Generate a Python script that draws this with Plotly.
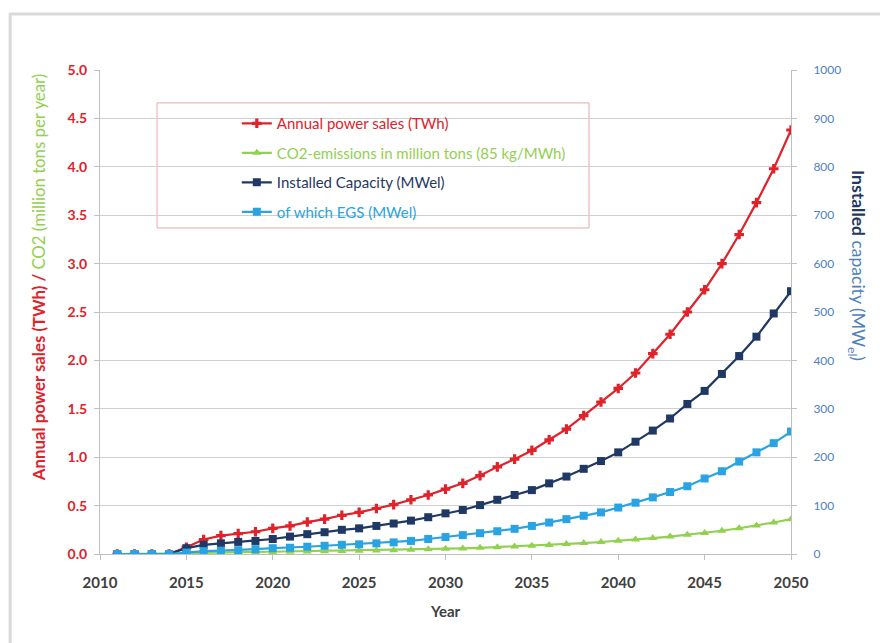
import plotly.graph_objects as go

years = list(range(2011, 2051))

power_sales_twh = [0, 0, 0, 0, 0.07, 0.15, 0.19, 0.21, 0.23, 0.265,
                   0.29, 0.33, 0.36, 0.40, 0.43, 0.47, 0.51, 0.56, 0.61, 0.67,
                   0.73, 0.81, 0.90, 0.98, 1.07, 1.18, 1.29, 1.43, 1.57, 1.71,
                   1.87, 2.07, 2.27, 2.50, 2.73, 3.00, 3.30, 3.63, 3.98, 4.38]

co2_mt = [0, 0, 0, 0, 0.006, 0.012, 0.015, 0.017, 0.019, 0.021,
          0.023, 0.026, 0.028, 0.031, 0.034, 0.037, 0.040, 0.044, 0.048, 0.053,
          0.058, 0.064, 0.071, 0.078, 0.086, 0.094, 0.103, 0.113, 0.124, 0.136,
          0.149, 0.164, 0.180, 0.198, 0.218, 0.240, 0.266, 0.294, 0.325, 0.36]

installed_mw = [0, 0, 0, 0, 12, 19, 22, 25, 27, 31,
                36, 41, 45, 50, 53, 58, 63, 69, 76, 84,
                91, 101, 112, 122, 132, 146, 160, 176, 192, 210,
                232, 255, 280, 310, 337, 372, 409, 449, 497, 543]

egs_mw = [0, 0, 0, 0, 3, 6, 7, 8, 10, 12,
          13, 15, 17, 19, 20, 22, 24, 27, 31, 35,
          39, 43, 47, 52, 58, 65, 72, 79, 86, 96,
          106, 117, 128, 140, 156, 171, 191, 210, 229, 253]

RED = "#e0222a"
GREEN = "#92d050"
NAVY = "#1f3864"
LBLUE = "#2aa3e2"
AXBLUE = "#4f81bd"
FONT = "Lato"

fig = go.Figure()
fig.add_trace(go.Scatter(
    x=years, y=power_sales_twh, mode="lines+markers", legendgroup="a",
    name=f'<span style="color:{RED}">Annual power sales (TWh)</span>',
    line=dict(color=RED, width=2.2), marker=dict(symbol="cross", size=8, color=RED)))
fig.add_trace(go.Scatter(
    x=years, y=co2_mt, mode="lines+markers", legendgroup="b",
    name=f'<span style="color:{GREEN}">CO2-emissions in million tons (85 kg/MWh)</span>',
    line=dict(color=GREEN, width=2.2), marker=dict(symbol="triangle-up", size=8, color=GREEN)))
fig.add_trace(go.Scatter(
    x=years, y=installed_mw, mode="lines+markers", yaxis="y2", legendgroup="c",
    name=f'<span style="color:{NAVY}">Installed Capacity (MWel)</span>',
    line=dict(color=NAVY, width=2.2), marker=dict(symbol="square", size=8, color=NAVY)))
fig.add_trace(go.Scatter(
    x=years, y=egs_mw, mode="lines+markers", yaxis="y2", legendgroup="d",
    name=f'<span style="color:{LBLUE}">of which EGS (MWel)</span>',
    line=dict(color=LBLUE, width=2.2), marker=dict(symbol="square", size=8, color=LBLUE)))

fig.update_layout(
    width=880, height=635,
    margin=dict(l=92, r=97, t=62, b=89),
    paper_bgcolor="white", plot_bgcolor="white",
    font=dict(family=FONT, size=12, color="#404040"),
    showlegend=True,
    legend=dict(x=0.198, y=0.9235, xanchor="left", yanchor="top",
                bgcolor="rgba(0,0,0,0)", borderwidth=0,
                font=dict(family=FONT, size=15), tracegroupgap=7,
                itemwidth=30),
    xaxis=dict(range=[2010, 2050], dtick=5, tick0=2010, showgrid=False,
               showline=True, linecolor="#bfbfbf", linewidth=1,
               ticks="outside", ticklen=5, tickcolor="#bfbfbf",
               ticklabelstandoff=10,
               tickfont=dict(family=FONT, size=15, color="#404040", weight="bold"),
               title=dict(text="<b>Year</b>", font=dict(family=FONT, size=15, color="#404040"), standoff=16),
               zeroline=False),
    yaxis=dict(range=[0, 5], dtick=0.5, tickformat=".1f", showgrid=True,
               gridcolor="#cfcfcf", gridwidth=1,
               showline=True, linecolor="#bfbfbf", linewidth=1,
               ticks="outside", ticklen=5, tickcolor="#bfbfbf",
               ticklabelstandoff=4,
               tickfont=dict(family=FONT, size=14, color=RED, weight="bold"),
               zeroline=False),
    yaxis2=dict(range=[0, 1000], dtick=100, overlaying="y", side="right",
                showgrid=False, showline=True, linecolor="#bfbfbf", linewidth=1,
                ticks="outside", ticklen=5, tickcolor="#bfbfbf",
                ticklabelstandoff=14,
                tickfont=dict(family=FONT, size=12, color=AXBLUE),
                zeroline=False),
)

# outer frame (top and left edges visible)
fig.add_shape(type="rect", xref="paper", yref="paper",
              x0=-0.130, x1=1.20, y0=-0.25, y1=1.1157,
              line=dict(color="#d9d9d9", width=3), fillcolor="rgba(0,0,0,0)", layer="below")
# legend box
fig.add_shape(type="rect", xref="paper", yref="paper",
              x0=0.0825, x1=0.7077, y0=0.6736, y1=0.932,
              line=dict(color="#e8a8a8", width=1), fillcolor="white", layer="below")

fig.add_annotation(
    xref="paper", yref="paper", x=-0.0897, y=0.57, xanchor="center", yanchor="middle",
    textangle=-90, showarrow=False,
    text=f'<span style="color:{RED}"><b>Annual power sales (TWh) / </b></span>'
         f'<span style="color:{GREEN}">CO2 (million tons per year)</span>',
    font=dict(family=FONT, size=16.8))
fig.add_annotation(
    xref="paper", yref="paper", x=1.0955, y=0.595, xanchor="center", yanchor="middle",
    textangle=90, showarrow=False,
    text=f'<span style="color:{NAVY}"><b>Installed</b></span>'
         f'<span style="color:{AXBLUE}"> capacity (MW<sub>el</sub>)</span>',
    font=dict(family=FONT, size=17.5))

fig.write_html("out.html")
